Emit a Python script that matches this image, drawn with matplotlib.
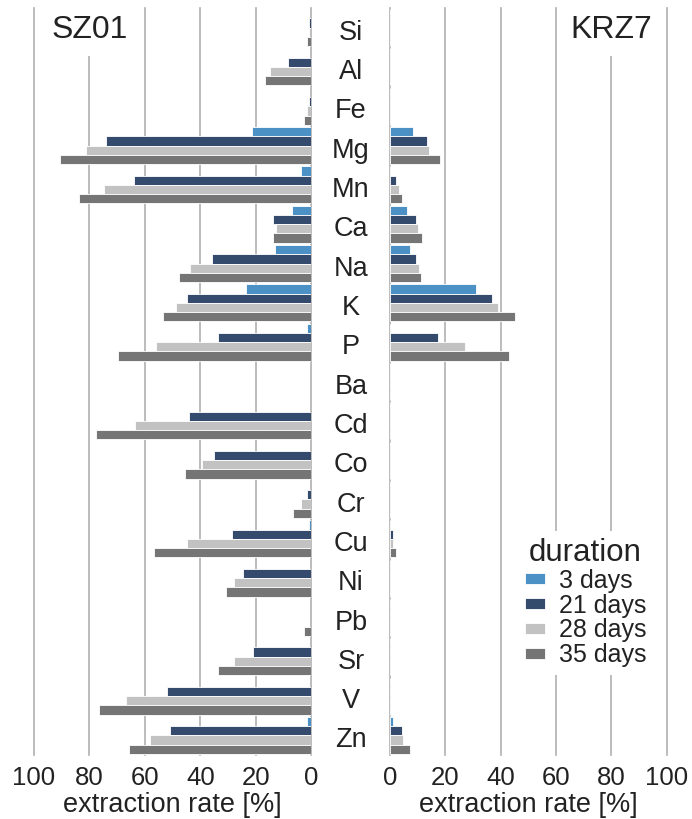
import matplotlib
matplotlib.use("Agg")
import matplotlib.pyplot as plt
from matplotlib.transforms import blended_transform_factory
import numpy as np

plt.rcParams["font.family"] = ["Liberation Sans", "DejaVu Sans"]

elements = ["Si", "Al", "Fe", "Mg", "Mn", "Ca", "Na", "K", "P", "Ba",
            "Cd", "Co", "Cr", "Cu", "Ni", "Pb", "Sr", "V", "Zn"]
durations = ["3 days", "21 days", "28 days", "35 days"]
colors = ["#4b91c5", "#344b6e", "#c2c2c2", "#757575"]

# extraction rate [%] per duration
sz01_3d = [0, 0, 0, 21.3, 3.7, 6.9, 13.0, 23.7, 1.7, 0, 0, 0, 0, 0.9, 0, 0, 0, 0, 1.7]
sz01_21d = [0.7, 8.5, 0.8, 74.0, 63.8, 13.8, 35.7, 44.8, 33.7, 0, 44.0, 35.1, 1.6, 28.7, 24.7, 0, 21.2, 52.1, 51.0]
sz01_28d = [1.0, 14.9, 1.5, 81.1, 74.7, 12.7, 43.8, 48.8, 56.0, 0, 63.6, 39.4, 3.8, 44.9, 27.8, 0, 27.8, 67.0, 58.2]
sz01_35d = [1.5, 16.7, 2.6, 90.7, 83.8, 13.8, 47.6, 53.4, 69.7, 0, 77.8, 45.7, 6.7, 56.9, 30.8, 2.6, 33.8, 76.6, 65.9]

krz7_3d = [0, 0, 0, 8.2, 0, 6.0, 7.2, 30.9, 0, 0, 0, 0, 0, 0, 0, 0, 0, 0, 1.1]
krz7_21d = [0, 0, 0, 13.2, 2.3, 9.3, 9.4, 36.9, 17.3, 0, 0, 0, 0, 1.2, 0, 0, 0, 0, 4.3]
krz7_28d = [0, 0, 0, 14.2, 3.2, 10.2, 10.5, 39.0, 27.2, 0, 0, 0, 0, 1.0, 0, 0, 0, 0, 4.6]
krz7_35d = [0, 0, 0, 18.0, 4.4, 11.6, 11.3, 45.0, 43.0, 0, 0, 0, 0, 2.0, 0, 0, 0, 0, 7.2]

sz01 = [sz01_3d, sz01_21d, sz01_28d, sz01_35d]
krz7 = [krz7_3d, krz7_21d, krz7_28d, krz7_35d]

W, H = 692, 819
fig = plt.figure(figsize=(W / 100, H / 100), dpi=100)

top, bottom = 8, 755
ax_l = fig.add_axes([34 / W, 1 - bottom / H, (311.3 - 34) / W, (bottom - top) / H])
ax_r = fig.add_axes([390 / W, 1 - bottom / H, (666.7 - 390) / W, (bottom - top) / H])

y = np.arange(len(elements))
bw = 0.235
text_c = "#222222"

for ax, data, name in [(ax_l, sz01, "SZ01"), (ax_r, krz7, "KRZ7")]:
    for i, (vals, c, lab) in enumerate(zip(data, colors, durations)):
        ax.barh(y + (i - 1.5) * bw, vals, height=bw, color=c,
                edgecolor="white", linewidth=0.6, label=lab, zorder=3)
    ax.set_ylim(len(elements) - 0.5, -0.5)
    ax.set_yticks([])
    ax.set_xticks([0, 20, 40, 60, 80, 100])
    ax.grid(axis="x", color="#b0b0b0", linewidth=1.2, zorder=0)
    ax.set_axisbelow(True)
    for gl in ax.xaxis.get_gridlines():
        gl.set_clip_on(False)
    for s in ax.spines.values():
        s.set_visible(False)
    ax.tick_params(axis="x", length=0, pad=8, labelsize=18.5, labelcolor=text_c)
    ax.set_xlabel("extraction rate [%]", fontsize=19.5, color=text_c, labelpad=1)
    ax.text(80, 0.05, name, ha="center", va="center", fontsize=23, color=text_c,
            zorder=4, bbox=dict(facecolor="white", edgecolor="none", pad=8))

ax_l.set_xlim(100, 0)
ax_r.set_xlim(0, 100)

# element names between the two panels
tr = blended_transform_factory(fig.transFigure, ax_l.transData)
for yi, el in zip(y, elements):
    fig.text(351 / W, yi + 0.13, el, transform=tr, ha="center", va="center",
             fontsize=19.5, color=text_c)

leg = ax_r.legend(title="duration", loc="upper left",
                  bbox_to_anchor=(505 / W, 1 - 518 / H), bbox_transform=fig.transFigure,
                  fontsize=18, title_fontsize=22.5, frameon=True, framealpha=1,
                  edgecolor="white", fancybox=False, handlelength=0.8,
                  handleheight=0.3, handletextpad=0.55, labelspacing=0.03,
                  borderpad=0.3)
leg.get_frame().set_linewidth(0)
for t in leg.get_texts():
    t.set_color(text_c)
leg.get_title().set_color(text_c)
leg.set_zorder(5)

fig.savefig("out.png", dpi=100)
